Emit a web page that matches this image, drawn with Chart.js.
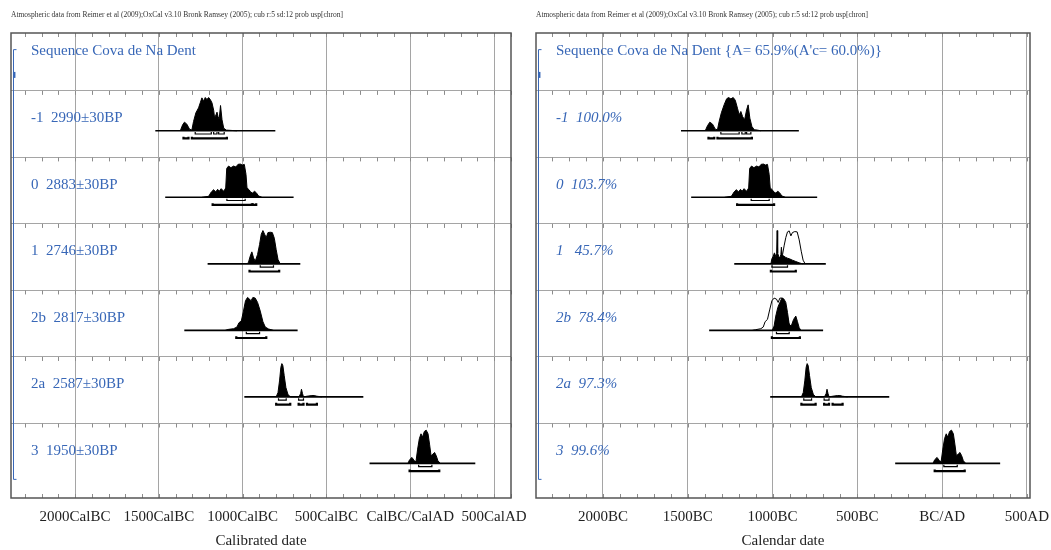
<!DOCTYPE html>
<html>
<head>
<meta charset="utf-8">
<title>Cova de Na Dent - OxCal</title>
<script src="https://cdn.jsdelivr.net/npm/chart.js@4.4.1/dist/chart.umd.min.js"></script>
<style>
  body { margin: 0; background: #fff; }
  #wrap { position: relative; width: 1051px; height: 550px; overflow: hidden; }
  canvas { position: absolute; top: 0; }
  #calChart { left: 0; }
  #modChart { left: 525px; }
</style>
</head>
<body>
<div id="wrap">
  <canvas id="calChart" width="545" height="550"></canvas>
  <canvas id="modChart" width="560" height="550"></canvas>
</div>
<script>
// values (years, negative = BC)
const headerText = 'Atmospheric data from Reimer et al (2009);OxCal v3.10 Bronk Ramsey (2005); cub r:5 sd:12 prob usp[chron]';
const tickYears = [-2000, -1500, -1000, -500, 0, 500];
const calTickLabels = ['2000CalBC', '1500CalBC', '1000CalBC', '500CalBC', 'CalBC/CalAD', '500CalAD'];
const modTickLabels = ['2000BC', '1500BC', '1000BC', '500BC', 'BC/AD', '500AD'];
const calTitle = 'Sequence Cova de Na Dent';
const modTitle = "Sequence Cova de Na Dent {A= 65.9%(A'c= 60.0%)}";
const calRowLabels = ['-1  2990\u00b130BP', '0  2883\u00b130BP', '1  2746\u00b130BP', '2b  2817\u00b130BP', '2a  2587\u00b130BP', '3  1950\u00b130BP'];
const modRowLabels = ['-1  100.0%', '0  103.7%', '1   45.7%', '2b  78.4%', '2a  97.3%', '3  99.6%'];

// calibrated (unmodelled) distributions, left panel
const calYearsM1 = [-1372,-1358,-1347,-1333,-1317,-1303,-1293,-1279,-1263,-1253,-1243,-1233,-1223,-1213,-1203,-1193,-1183,-1173,-1167,-1159,-1153,-1147,-1140,-1132,-1123,-1113,-1098,-1034];
const calProbM1  = [0,0.18,0.26,0.2,0.05,0.02,0.28,0.54,0.69,0.84,0.99,0.89,1.0,0.94,1.0,0.94,0.84,0.62,0.38,0.48,0.56,0.43,0.35,0.76,0.33,0.08,0.02,0];
const calYears0 = [-1243,-1203,-1187,-1173,-1161,-1149,-1140,-1128,-1113,-1101,-1095,-1084,-1070,-1054,-1040,-1028,-1014,-1002,-990,-980,-974,-962,-953,-941,-929,-919,-905,-885];
const calProb0  = [0,0.03,0.16,0.23,0.16,0.24,0.18,0.26,0.18,0.28,0.87,0.94,0.89,0.94,0.91,0.99,1.0,0.97,0.99,0.69,0.28,0.23,0.16,0.13,0.18,0.14,0.04,0];
const calYears1 = [-974,-965,-955,-945,-935,-925,-911,-899,-889,-879,-869,-859,-849,-835,-823,-811,-800,-789,-776];
const calProb1  = [0,0.05,0.23,0.36,0.18,0.08,0.28,0.58,0.89,1.0,0.89,0.79,0.94,0.95,0.94,0.77,0.43,0.13,0];
const calYears2b = [-1104,-1084,-1054,-1034,-1022,-1008,-995,-983,-971,-959,-950,-939,-925,-911,-895,-879,-865,-845,-816];
const calProb2b  = [0,0.03,0.05,0.1,0.23,0.28,0.58,0.89,0.99,0.94,0.89,0.99,0.97,0.84,0.58,0.26,0.1,0.04,0];
const calYears2a = [-800,-789,-780,-772,-766,-760,-752,-742,-730,-716,-664,-654,-649,-643,-637,-616,-587,-573,-557,-527];
const calProb2a  = [0,0.13,0.48,0.89,1.0,0.94,0.64,0.28,0.08,0,0,0.1,0.23,0.1,0,0.02,0.04,0.04,0.02,0];
const calYears3 = [-14,-4,10,24,34,44,54,64,73,84,95,106,115,124,135,145,155,165,179];
const calProb3  = [0,0.11,0.18,0.08,0.05,0.43,0.74,0.89,0.79,0.96,1.0,0.89,0.58,0.23,0.28,0.33,0.23,0.08,0];
const calSpans = [[-1521,-805], [-1462,-696], [-1209,-656], [-1348,-672], [-990,-280], [-243,388]];
const calRange68 = [[[-1283,-1187],[-1173,-1153],[-1143,-1110]], [[-1094,-985]], [[-895,-816]], [[-978,-899]], [[-786,-740],[-666,-637]], [[50,129]]];
const calRange95 = [[[-1353,-1323],[-1303,-1094]], [[-1179,-945],[-939,-919]], [[-959,-782]], [[-1038,-859]], [[-800,-716],[-666,-637],[-616,-557]], [[-4,173]]];

// modelled (posterior) distributions, right panel
const modYearsM1 = [-1397,-1384,-1370,-1354,-1338,-1325,-1315,-1302,-1285,-1271,-1260,-1246,-1232,-1220,-1207,-1197,-1187,-1177,-1165,-1153,-1144,-1134,-1122,-1108,-1089,-1069];
const modProbM1  = [0,0.15,0.26,0.2,0.05,0.03,0.28,0.54,0.79,0.96,1.0,0.96,1.0,0.92,0.68,0.48,0.58,0.43,0.33,0.63,0.78,0.38,0.13,0.03,0.02,0];
const modYears0 = [-1283,-1243,-1227,-1213,-1201,-1189,-1180,-1168,-1153,-1141,-1135,-1124,-1110,-1094,-1080,-1068,-1054,-1042,-1030,-1020,-1014,-1002,-993,-981,-969,-959,-945,-925];
const modProb0  = [0,0.03,0.16,0.23,0.16,0.24,0.18,0.26,0.18,0.28,0.87,0.94,0.89,0.94,0.91,0.99,1.0,0.97,0.99,0.69,0.28,0.23,0.16,0.13,0.18,0.14,0.04,0];
const modYears1 = [-1010,-1004,-996,-989,-981,-976,-973,-970,-962,-957,-951,-948,-944,-936,-925,-912,-900,-883,-863,-843,-823];
const modProb1  = [0,0.15,0.23,0.33,0.22,0.3,1.0,0.32,0.2,0.18,0.28,0.5,0.28,0.24,0.2,0.17,0.15,0.11,0.07,0.03,0];
const likeYears1 = [-960,-951,-941,-932,-922,-912,-902,-892,-883,-869,-855,-843,-831,-820,-808];
const likeProb1  = [0,0.15,0.28,0.54,0.79,0.96,0.99,0.84,0.94,0.97,0.96,0.72,0.38,0.11,0];
const modYears2b = [-1002,-991,-981,-969,-957,-945,-933,-922,-912,-902,-890,-876,-863,-853,-843,-833];
const modProb2b  = [0,0.13,0.43,0.69,0.84,0.97,0.94,0.84,0.54,0.18,0.13,0.33,0.43,0.26,0.08,0];
const likeYears2b = [-1119,-1099,-1069,-1055,-1044,-1030,-1016,-1004,-991,-977,-967,-957,-941,-932,-918,-906,-892,-873];
const likeProb2b  = [0,0.02,0.05,0.1,0.26,0.33,0.64,0.89,0.97,0.94,0.84,0.97,0.97,0.84,0.54,0.23,0.08,0];
const modYears2a = [-830,-819,-810,-802,-796,-790,-782,-772,-760,-746,-694,-684,-679,-673,-667,-646,-617,-603,-587,-557];
const modProb2a  = [0,0.13,0.48,0.89,1.0,0.94,0.64,0.28,0.08,0,0,0.1,0.23,0.1,0,0.02,0.04,0.04,0.02,0];
const modYears3 = [-54,-44,-30,-16,-6,4,14,24,33,44,55,66,75,84,95,105,115,125,139];
const modProb3  = [0,0.11,0.18,0.08,0.05,0.43,0.74,0.89,0.79,0.96,1.0,0.89,0.58,0.23,0.28,0.33,0.23,0.08,0];
const modSpans = [[-1540,-845], [-1480,-737], [-1226,-686], [-1374,-702], [-1014,-312], [-277,342]];
const modRange68 = [[[-1305,-1197],[-1181,-1161],[-1153,-1128]], [[-1126,-1020]], [[-1004,-912]], [[-977,-902]], [[-816,-770],[-696,-667]], [[10,89]]];
const modRange95 = [[[-1378,-1344],[-1325,-1122]], [[-1209,-991]], [[-1010,-863]], [[-1004,-839]], [[-830,-746],[-696,-667],[-646,-587]], [[-44,133]]];

const BLUE = '#3867b7';
const ROW_BASE = 0.6;   // baseline offset inside a row band (row units)
const PEAK = 0.5;       // height of a normalised distribution

function distSet(row, years, prob, filled) {
  const base = row + ROW_BASE;
  return {
    data: years.map((x, i) => ({ x: x, y: base - prob[i] * PEAK })),
    borderColor: '#000',
    borderWidth: 1,
    backgroundColor: filled ? '#000' : 'rgba(0,0,0,0)',
    fill: filled ? { value: base } : false,
    pointRadius: 0,
    tension: 0
  };
}

function lineSet(points, width) {
  return { data: points, borderColor: '#000', borderWidth: width, pointRadius: 0, fill: false, tension: 0 };
}

function rowSets(row, span, r68, r95) {
  const base = row + ROW_BASE;
  const out = [lineSet([{ x: span[0], y: base }, { x: span[1], y: base }], 1.6)];
  r68.forEach(r => {
    out.push(lineSet([{ x: r[0], y: base + 0.02 }, { x: r[0], y: base + 0.048 }, { x: r[1], y: base + 0.048 }, { x: r[1], y: base + 0.02 }], 1.2));
  });
  r95.forEach(r => {
    out.push(lineSet([{ x: r[0], y: base + 0.09 }, { x: r[0], y: base + 0.115 }, { x: r[1], y: base + 0.115 }, { x: r[1], y: base + 0.09 }], 2.2));
  });
  return out;
}

function decor(title, labels, italic) {
  return {
    id: 'oxcalDecor',
    afterDraw(chart) {
      const ctx = chart.ctx, a = chart.chartArea, x = chart.scales.x, y = chart.scales.y;
      ctx.save();
      // small ticks every 100 years on each row line
      ctx.strokeStyle = '#8c8c8c';
      ctx.lineWidth = 1;
      ctx.beginPath();
      const rowLines = [y.min, 0, 1, 2, 3, 4, 5];
      for (let yr = Math.ceil(x.min / 100) * 100; yr <= x.max; yr += 100) {
        const px = Math.round(x.getPixelForValue(yr)) + 0.5;
        rowLines.forEach(v => {
          const py = y.getPixelForValue(v);
          ctx.moveTo(px, py);
          ctx.lineTo(px, py + 4);
        });
        ctx.moveTo(px, a.bottom);
        ctx.lineTo(px, a.bottom - 4);
      }
      ctx.stroke();
      // frame
      ctx.strokeStyle = '#555';
      ctx.lineWidth = 1.5;
      ctx.strokeRect(a.left, a.top, a.right - a.left, a.bottom - a.top);
      // header line
      ctx.fillStyle = '#333';
      ctx.textBaseline = 'middle';
      ctx.font = '7.5px "Liberation Serif"';
      ctx.fillText(headerText, a.left, 15);
      // sequence bracket
      const bx = a.left + 2.5;
      const top = y.getPixelForValue(-0.62), bot = y.getPixelForValue(5.84);
      ctx.strokeStyle = BLUE;
      ctx.lineWidth = 1;
      ctx.beginPath();
      ctx.moveTo(bx + 3, top); ctx.lineTo(bx, top); ctx.lineTo(bx, bot); ctx.lineTo(bx + 3, bot);
      ctx.stroke();
      ctx.lineWidth = 2.5;
      ctx.beginPath();
      ctx.moveTo(bx + 0.7, y.getPixelForValue(-0.285));
      ctx.lineTo(bx + 0.7, y.getPixelForValue(-0.195));
      ctx.stroke();
      // labels
      ctx.fillStyle = BLUE;
      ctx.font = '15px "Liberation Serif"';
      ctx.fillText(title, a.left + 20, y.getPixelForValue(-0.6));
      ctx.font = (italic ? 'italic ' : '') + '15px "Liberation Serif"';
      labels.forEach((t, i) => ctx.fillText(t, a.left + 20, y.getPixelForValue(i + 0.41)));
      ctx.restore();
    }
  };
}

function makeChart(id, datasets, xmin, xmax, padRight, tickLabels, axisTitle, title, labels, italic) {
  const font = { family: 'Liberation Serif', size: 15 };
  return new Chart(document.getElementById(id), {
    type: 'line',
    data: { datasets: datasets },
    options: {
      responsive: false,
      animation: false,
      layout: { padding: { top: 33, left: 11, right: padRight, bottom: 0 } },
      plugins: { legend: { display: false }, tooltip: { enabled: false } },
      scales: {
        x: {
          type: 'linear',
          min: xmin,
          max: xmax,
          afterFit: s => { s.height = 52; },
          border: { display: false },
          grid: {
            drawTicks: false,
            lineWidth: 1,
            color: c => (c.tick && c.tick.value % 500 === 0) ? '#a5a5a5' : 'rgba(0,0,0,0)'
          },
          ticks: {
            stepSize: 100,
            includeBounds: false,
            autoSkip: false,
            maxRotation: 0,
            minRotation: 0,
            padding: 10,
            color: '#222',
            font: font,
            callback: v => {
              const i = tickYears.indexOf(v);
              return i >= 0 ? tickLabels[i] : '';
            }
          },
          title: { display: true, text: axisTitle, color: '#222', font: font, padding: 0 }
        },
        y: {
          type: 'linear',
          reverse: true,
          min: -0.87,
          max: 6.12,
          afterFit: s => { s.width = 0; },
          border: { display: false },
          ticks: { display: false, stepSize: 1, includeBounds: false },
          grid: {
            drawTicks: false,
            lineWidth: 1,
            color: c => (c.tick && Number.isInteger(c.tick.value) && c.tick.value >= 0 && c.tick.value <= 5) ? '#a5a5a5' : 'rgba(0,0,0,0)'
          }
        }
      }
    },
    plugins: [decor(title, labels, italic)]
  });
}

// left panel: calibrated dates
const calDists = [[calYearsM1, calProbM1], [calYears0, calProb0], [calYears1, calProb1], [calYears2b, calProb2b], [calYears2a, calProb2a], [calYears3, calProb3]];
let calSets = [];
calDists.forEach((d, row) => {
  calSets.push(distSet(row, d[0], d[1], true));
  calSets = calSets.concat(rowSets(row, calSpans[row], calRange68[row], calRange95[row]));
});
makeChart('calChart', calSets, -2382, 601, 34, calTickLabels, 'Calibrated date', calTitle, calRowLabels, false);

// right panel: modelled dates, with the unmodelled outline where it differs
const modDists = [[modYearsM1, modProbM1], [modYears0, modProb0], [modYears1, modProb1], [modYears2b, modProb2b], [modYears2a, modProb2a], [modYears3, modProb3]];
let modSets = [];
modDists.forEach((d, row) => {
  modSets.push(distSet(row, d[0], d[1], true));
  modSets = modSets.concat(rowSets(row, modSpans[row], modRange68[row], modRange95[row]));
});
modSets.push(distSet(2, likeYears1, likeProb1, false));
modSets.push(distSet(3, likeYears2b, likeProb2b, false));
makeChart('modChart', modSets, -2395, 518, 55, modTickLabels, 'Calendar date', modTitle, modRowLabels, true);
</script>
</body>
</html>
